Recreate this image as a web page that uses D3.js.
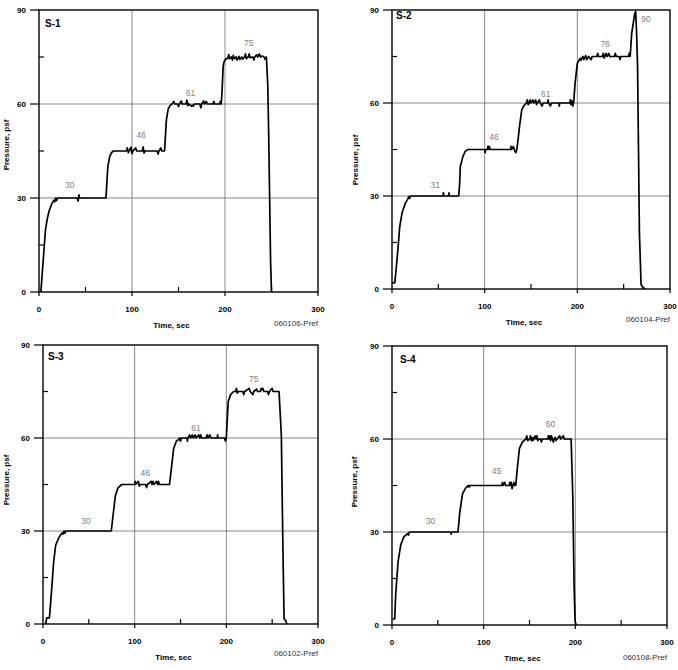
<!DOCTYPE html>
<html>
<head>
<meta charset="utf-8">
<script src="https://cdn.jsdelivr.net/npm/d3@7"></script>
<style>
  body { margin: 0; background: #fff; }
  svg { display: block; font-family: "Liberation Sans", Arial, sans-serif; }
</style>
</head>
<body>
<div id="chartContainer"></div>
<script>
// panel names and file codes
const panelNames = ["S-1", "S-2", "S-3", "S-4"];
const panelCodes = ["060106-Pref", "060104-Pref", "060102-Pref", "060108-Pref"];

const xTicks = [0, 100, 200, 300];
const yTicks = [0, 30, 60, 90];
const xMinor = [50, 150, 250];
const yMinor = [15, 45, 75];

// pressure traces [time sec, pressure psf]
const s1Trace = [
  [2,0],[4,8],[6,16],[7,20],[9,23.5],[11,26],[14,28.3],[16,29.3],[17,28.8],[18,30],[19,29.2],[20,30],
  [41,30],[42,29],[43,31],[43.5,30],
  [72,30],[73,35],[74,40],[76,43.2],[78,44.5],[80,45],
  [94,45],[95,46],[96,44.5],[97,45],[99,46.2],[100,44.2],[101,45],[104,46],[105,45],[111,45],[112,46.3],[113,44.3],[114,45],
  [127,45],[128,44],[129,45],[131,46],[132,45],
  [135,45],[136,50],[137,55],[139,58.5],[141,59.5],[143,60],[145,60.8],[146,60],[149,60],[150,59.2],[151,60],[153,61],[154,60],
  [158,60],[159,61.2],[160,59.5],[161,60],[164,59.3],[165,59.6],[166,59.3],[167,60],[173,60],[174,58.8],[175,60],[177,61],[178,60],
  [180,60.8],[181,60],[187,60],[188,60.8],[189,60],[194,60],[195,60.8],[196,60],
  [197,65],[198,72],[199,73.5],[201,74.5],[203,74.5],[204,75.8],[205,74.5],[207,75],[208,74],[209,75.5],[210,74.5],[212,75],[213,74],
  [215,75.2],[216,74.2],[218,75],[219,74.3],[221,75],[222,76],[223,74.5],[225,75],[226,76],[227,74.8],[230,75],[231,74],[232,75],
  [234,75.7],[235,75],[237,76],[238,75],[240,75.3],[242,75],[243,74.3],[244.5,75],
  [246,66],[247,50],[248,30],[249,10],[250,0]
];
const s2Trace = [
  [0,2],[3,2],[4,5],[5.4,9.5],[7,15],[8.3,20],[10.8,24.5],[14.4,27.7],[17,29],[18,29.8],[19,29.2],[20,30],
  [55,30],[55.5,31],[56,30],[61,30],[61.5,31],[62,30],
  [72,30],[73,34],[73.7,39.5],[76.5,42.7],[79,44.4],[82,45],
  [100,45],[100.5,44],[101,45],[103,45],[103.5,46],[104,45],[105,46],[106,45],
  [128,45],[128.5,46],[129,45],[131,46],[132,45],[133.5,44],[134.7,45],
  [136,48],[137.6,52.4],[140,57.8],[142,59],[145,60],[146,61],[147,59.5],[148,60],[149,61],[150,60],[152,61],[153,60],[155,61],
  [156,59.5],[157,60],[159,61],[160,60],[162,59],[163,60],[168,60],[168.5,61],[169,60],[171,59],[172,60],[180,60],[180.5,59],[181,60],
  [192,60],[192.5,61],[193,59.5],[194,60.8],[195,59],[196,60],
  [197.6,66.4],[200,72.8],[203,74.4],[204,73.8],[206,75],[207,74],[209,75.3],[210,74],[212,75],[215,74],[216,75],[221,75],[222,76],
  [223,75],[227,75],[228,76],[229,74.5],[231,76],[232,75],[234,76],[235,75],[240,75],[241,76],[242,75],[245,75],[246,74],[247,75],
  [255,75],[256,76],[257,75],
  [258.7,82.5],[262,89],[263,89.5],[264,82],[265,72],[266,45],[267,18],[268.8,1.4],[271,0.5],[273,0]
];
const s3Trace = [
  [3,0],[4,2],[7,2],[9,9.3],[11.6,20],[13.8,25.4],[17.5,28],[21,29.4],[22,29],[23,30],[24,29.3],[25,30],
  [74.5,30],[76.4,35],[79,41.5],[82,44],[86,45],
  [100,45],[100.5,46],[101,45],[104,46],[105,44.5],[106,45],[112,45],[113,44],[114,45],[118,46],[119,45],[120,46],[121,45],
  [124,46],[125,45],[126,46],[127,45],
  [138,45],[140,50],[142.5,56.6],[145.5,59],[148,59.5],[149,60],[150,59],[151,60],[157,60],[157.5,59],[158,60],[160,61],[161,60],
  [163,61],[164,60],[166,61],[167,60],[170,61],[171,60],[172,61],[173,60],[178,60],[179,61],[180,60],[182,61],[183,60],
  [190,60],[190.5,61],[191,60],[198,60],[199,59],[200,60],
  [202,71.7],[204.7,74],[208,75],[210,75],[211,76],[212,74.5],[213,75],[218,75],[219,74],[220,75],[225,76],[226,75],[229,74],
  [230,75],[233,75.8],[234,75],[237,75],[238,76],[239,75.5],[240,76],[241,75],[245,75],[246,74],[247,75],[250,76],[251,75],[255,75],
  [257.5,75],[260,61],[261.8,23],[263,1.7],[265,1],[266,0]
];
const s4Trace = [
  [1,2],[3,2],[4,9.7],[6.6,20.4],[9.5,25.8],[13,28.5],[17.5,29.5],[18,29],[19,30],[20,30],
  [64,30],[64.5,29.3],[65,30],
  [72,30],[74,36.5],[77,42.4],[80.6,44.3],[82,44.6],[83,45],[84,44.5],[85,45],
  [120,45],[120.5,46],[121,45],[123,46],[124,45],[128,45],[128.5,46],[129,45],[130,46],[131,44],[132,45],[133,46],[134,45],[135,45],
  [136.7,50.5],[139,57],[142,58.9],[144,59.5],[146,60],[147,61],[148,59.5],[150,60],[151,61],[152,59.5],[153,60.5],[154,59.5],
  [156,61],[157,60],[158,61],[159,59.5],[160,60],[162,60],[163,59],[164,60],[170,60],[170.5,61],[171,60],[172,61],[173,59.5],
  [174,61],[175,60],[176,59],[177,60],[178,60.5],[179,59.5],[180,60],[183,61],[184,60],[187,61],[188,60],
  [195.4,60],[197.2,41.9],[198.7,11.8],[199.8,1],[201,0]
];

// step annotations: text, and where it sits in data units
const s1Notes = ["30", "46", "61", "75"];
const s1NoteAt = [[33, 34], [110, 50], [163, 63.6], [225.5, 79.6]];
const s2Notes = ["31", "46", "61", "76", "90"];
const s2NoteAt = [[46.7, 33.6], [110, 49], [166, 62.9], [230, 79], [274, 87]];
const s3Notes = ["30", "46", "61", "75"];
const s3NoteAt = [[47, 33.3], [111.6, 48.7], [167, 63.3], [230, 79]];
const s4Notes = ["30", "45", "60"];
const s4NoteAt = [[42, 33.5], [114, 49.8], [173, 65]];

const traces = [s1Trace, s2Trace, s3Trace, s4Trace];
const notes = [s1Notes, s2Notes, s3Notes, s4Notes];
const noteAt = [s1NoteAt, s2NoteAt, s3NoteAt, s4NoteAt];

// plot boxes on the page (pixels)
const boxes = [
  { l: 39, r: 318, t: 10, b: 292, tagDx: 6, tagDy: 17, titleX: 6, titleY: 145, codeDy: 34 },
  { l: 392, r: 670, t: 10, b: 289, tagDx: 4, tagDy: 9, titleX: 355, titleY: 160, codeDy: 33 },
  { l: 43, r: 318, t: 345, b: 624, tagDx: 5, tagDy: 15, titleX: 6, titleY: 480, codeDy: 32 },
  { l: 392, r: 667, t: 346, b: 625, tagDx: 8, tagDy: 17, titleX: 354, titleY: 482, codeDy: 35 }
];

const width = 678;
const height = 670;
let svg = d3
      .select("#chartContainer")
      .append("svg")
      .attr("width", width)
      .attr("height", height);

boxes.forEach((box, i) => {
  let xScale = d3.scaleLinear().domain([0, 300]).range([box.l, box.r]);
  let yScale = d3.scaleLinear().domain([0, 90]).range([box.b, box.t]);
  let g = svg.append("g");

  // grid lines
  g.selectAll(".gx")
    .data(xTicks.slice(1, -1))
    .enter()
    .append("line")
    .attr("x1", (d) => xScale(d)).attr("x2", (d) => xScale(d))
    .attr("y1", box.t).attr("y2", box.b)
    .attr("stroke", "#6a6a6a").attr("stroke-width", 0.8);
  g.selectAll(".gy")
    .data(yTicks.slice(1, -1))
    .enter()
    .append("line")
    .attr("y1", (d) => yScale(d)).attr("y2", (d) => yScale(d))
    .attr("x1", box.l).attr("x2", box.r)
    .attr("stroke", "#6a6a6a").attr("stroke-width", 0.8);

  // major ticks pointing out, minor ticks pointing in
  g.selectAll(".tx")
    .data(xTicks)
    .enter()
    .append("line")
    .attr("x1", (d) => xScale(d)).attr("x2", (d) => xScale(d))
    .attr("y1", box.b).attr("y2", box.b + 4)
    .attr("stroke", "#000").attr("stroke-width", 1.2);
  g.selectAll(".ty")
    .data(yTicks)
    .enter()
    .append("line")
    .attr("y1", (d) => yScale(d)).attr("y2", (d) => yScale(d))
    .attr("x1", box.l - 9).attr("x2", box.l)
    .attr("stroke", "#000").attr("stroke-width", 1.2);
  g.selectAll(".mx")
    .data(xMinor)
    .enter()
    .append("line")
    .attr("x1", (d) => xScale(d)).attr("x2", (d) => xScale(d))
    .attr("y1", box.b).attr("y2", box.b - 5)
    .attr("stroke", "#000").attr("stroke-width", 1.2);
  g.selectAll(".my")
    .data(yMinor)
    .enter()
    .append("line")
    .attr("y1", (d) => yScale(d)).attr("y2", (d) => yScale(d))
    .attr("x1", box.l).attr("x2", box.l + 5)
    .attr("stroke", "#000").attr("stroke-width", 1.2);

  // frame
  g.append("rect")
    .attr("x", box.l).attr("y", box.t)
    .attr("width", box.r - box.l).attr("height", box.b - box.t)
    .attr("fill", "none")
    .attr("stroke", "#000")
    .attr("stroke-width", 1.4);

  // tick labels
  g.selectAll(".xl")
    .data(xTicks)
    .enter()
    .append("text")
    .attr("x", (d) => xScale(d))
    .attr("y", box.b + 20)
    .attr("text-anchor", "middle")
    .attr("font-size", 8)
    .attr("font-weight", "bold")
    .text((d) => d);
  g.selectAll(".yl")
    .data(yTicks)
    .enter()
    .append("text")
    .attr("x", box.l - 13)
    .attr("y", (d) => yScale(d) + 3)
    .attr("text-anchor", "end")
    .attr("font-size", 8)
    .attr("font-weight", "bold")
    .text((d) => d);

  // axis titles
  g.append("text")
    .attr("x", (box.l + box.r) / 2 - 7)
    .attr("y", box.b + 36)
    .attr("text-anchor", "middle")
    .attr("font-size", 8)
    .attr("font-weight", "bold")
    .text("Time, sec");
  g.append("text")
    .attr("transform", "translate(" + (box.titleX + 3) + "," + box.titleY + ") rotate(-90)")
    .attr("text-anchor", "middle")
    .attr("font-size", 8)
    .attr("font-weight", "bold")
    .text("Pressure, psf");
  g.append("text")
    .attr("x", box.r)
    .attr("y", box.b + box.codeDy)
    .attr("text-anchor", "end")
    .attr("font-size", 8)
    .attr("fill", "#333")
    .text(panelCodes[i]);

  // panel tag
  g.append("text")
    .attr("x", box.l + box.tagDx)
    .attr("y", box.t + box.tagDy)
    .attr("font-size", 10)
    .attr("font-weight", "bold")
    .text(panelNames[i]);

  // pressure trace
  let line = d3.line()
    .x((d) => xScale(d[0]))
    .y((d) => yScale(d[1]));
  g.append("path")
    .datum(traces[i])
    .attr("d", line)
    .attr("fill", "none")
    .attr("stroke", "#000")
    .attr("stroke-width", 1.7)
    .attr("stroke-linejoin", "round");

  // step values
  g.selectAll(".note")
    .data(notes[i])
    .enter()
    .append("text")
    .attr("x", (d, j) => xScale(noteAt[i][j][0]))
    .attr("y", (d, j) => yScale(noteAt[i][j][1]) + 3)
    .attr("text-anchor", "middle")
    .attr("font-size", 8.5)
    .attr("fill", "#808080")
    .text((d) => d);
});
</script>
</body>
</html>
